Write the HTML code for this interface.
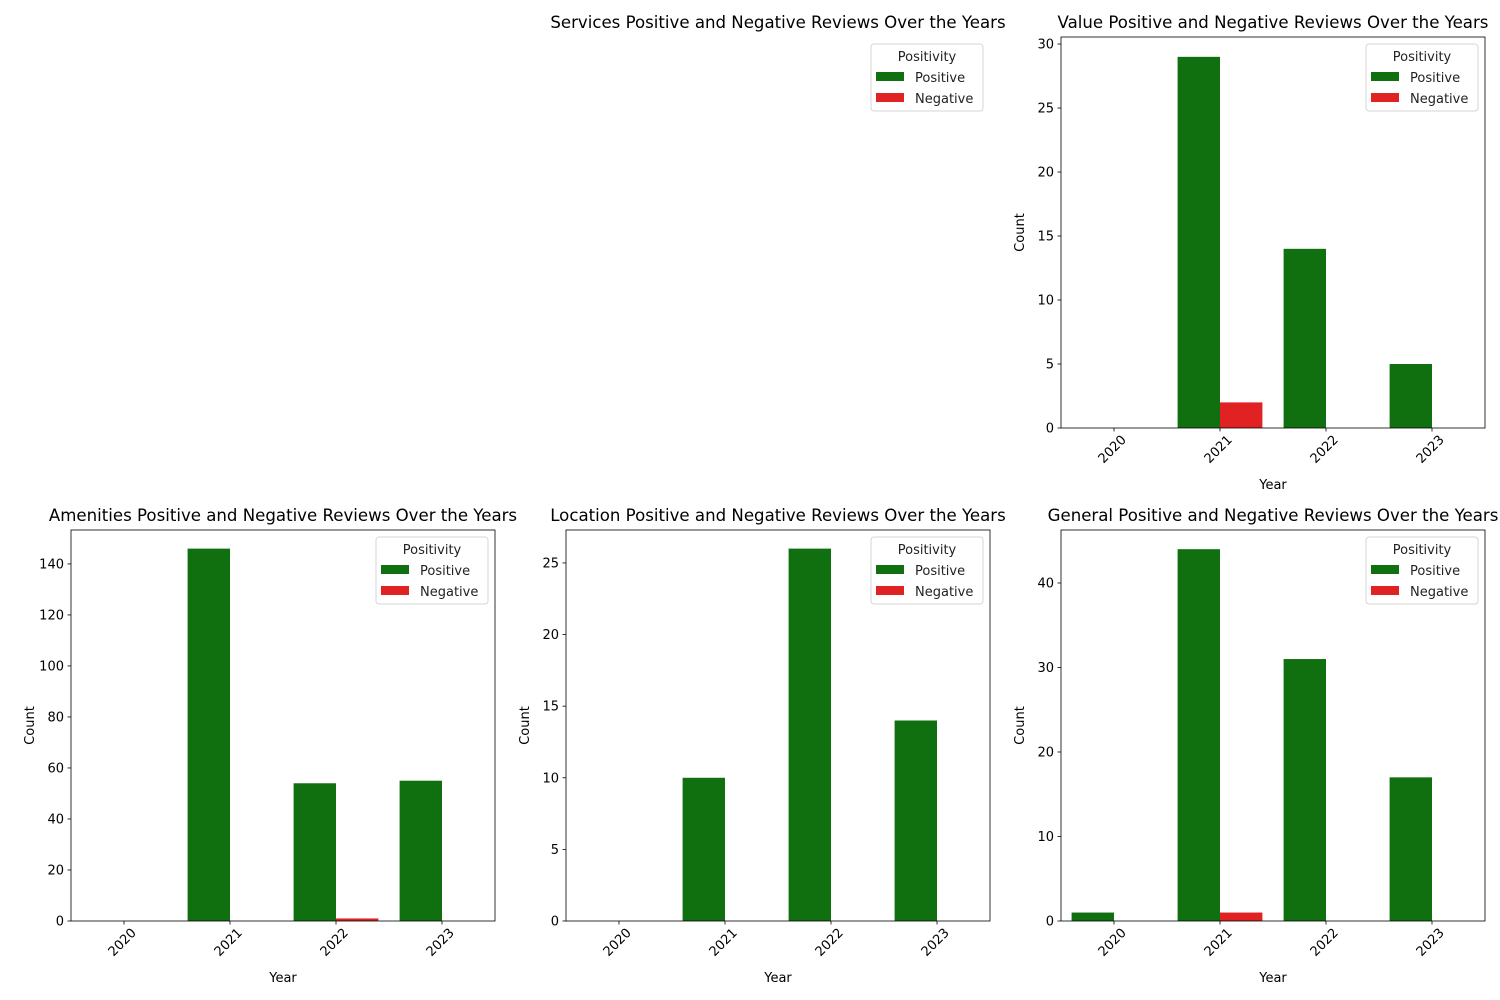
<!DOCTYPE html>
<html><head><meta charset="utf-8"><style>
body{margin:0;background:#fff}
svg{display:block;font-family:"DejaVu Sans","Liberation Sans",sans-serif}
</style></head><body>
<svg id="fig" width="1500" height="1000" viewBox="0 0 1500 1000"></svg>
<script>
const years = ["2020","2021","2022","2023"];
const valuePos = [0,29,14,5];
const valueNeg = [0,2,0,0];
const valueTicks = [0,5,10,15,20,25,30];
const amenPos = [0,146,54,55];
const amenNeg = [0,0,1,0];
const amenTicks = [0,20,40,60,80,100,120,140];
const locPos = [0,10,26,14];
const locNeg = [0,0,0,0];
const locTicks = [0,5,10,15,20,25];
const genPos = [1,44,31,17];
const genNeg = [0,1,0,0];
const genTicks = [0,10,20,30,40];

const NS="http://www.w3.org/2000/svg";
const svg=document.getElementById('fig');
function mk(tag,attrs,parent,text){const e=document.createElementNS(NS,tag);for(const k in attrs)e.setAttribute(k,attrs[k]);if(text!==undefined)e.textContent=text;(parent||svg).appendChild(e);return e;}
const GREEN="#107010", RED="#e02222";

function legend(g,x,y){
  const lg=mk('g',{},g);
  
  
  mk('rect',{x:x,y:y,width:112,height:67,rx:3,fill:'#fff',stroke:'#d5d5d5'},lg);
  mk('text',{x:x+56,y:y+17,'text-anchor':'middle','font-size':13,fill:'#222'},lg,'Positivity');
  const e1=mk('g',{},lg);
  
  
  mk('rect',{x:x+5,y:y+28,width:28,height:9,fill:GREEN},e1);
  mk('text',{x:x+44,y:y+38,'font-size':13,fill:'#222'},e1,'Positive');
  const e2=mk('g',{},lg);
  
  
  mk('rect',{x:x+5,y:y+49,width:28,height:9,fill:RED},e2);
  mk('text',{x:x+44,y:y+59,'font-size':13,fill:'#222'},e2,'Negative');
}

function panel(name,title,L,T,W,H,ymax,pos,neg,ticks){
  const g=mk('g',{});
  
  
  const B=T+H;
  const ys=v=>B-v/ymax*H;
  const step=W/years.length;
  const xc=i=>L+step*(i+0.5);
  const bw=step*0.4;
  ticks.forEach(t=>{
    const y=ys(t);
    mk('line',{x1:L-3.5,x2:L,y1:y,y2:y,stroke:'#000','stroke-width':0.8},g);
    const tl=mk('text',{x:L-7,y:y+4.5,'text-anchor':'end','font-size':13,fill:'#000'},g,String(t));
    
    
  });
  years.forEach((yr,i)=>{
    const b1=mk('rect',{x:xc(i)-bw,y:ys(pos[i]),width:bw,height:B-ys(pos[i]),fill:GREEN},g);
    
    
    const b2=mk('rect',{x:xc(i),y:ys(neg[i]),width:bw,height:B-ys(neg[i]),fill:RED},g);
    
    
    mk('line',{x1:xc(i),x2:xc(i),y1:B,y2:B+3.5,stroke:'#000','stroke-width':0.8},g);
    const cx=xc(i)-2, cy=B+21;
    const tl=mk('text',{x:cx,y:cy+4.5,'text-anchor':'middle','font-size':13,fill:'#000',transform:`rotate(-45 ${cx} ${cy})`},g,yr);
    
    
  });
  mk('rect',{x:L,y:T,width:W,height:H,fill:'none',stroke:'#000','stroke-width':0.8},g);
  const xt=mk('text',{x:L+W/2,y:B+61,'text-anchor':'middle','font-size':13,fill:'#000'},g,'Year');
  
  
  const yx=L-41, yy=T+H/2;
  const yt=mk('text',{x:yx,y:yy+4,'text-anchor':'middle','font-size':13,fill:'#000',transform:`rotate(-90 ${yx} ${yy})`},g,'Count');
  
  
  const tt=mk('text',{x:L+W/2,y:T-9,'text-anchor':'middle','font-size':16.6,fill:'#000'},g,title);
  
  
  legend(g,L+W-119,T+7);
}

const sg=mk('g',{});


const st=mk('text',{x:778,y:28,'text-anchor':'middle','font-size':16.6,fill:'#000'},sg,'Services Positive and Negative Reviews Over the Years');


legend(sg,871,44);

panel('value','Value Positive and Negative Reviews Over the Years',1061,37,424,391,30.55,valuePos,valueNeg,valueTicks);
panel('amenities','Amenities Positive and Negative Reviews Over the Years',71,530,424,391,153.3,amenPos,amenNeg,amenTicks);
panel('location','Location Positive and Negative Reviews Over the Years',566,530,424,391,27.3,locPos,locNeg,locTicks);
panel('general','General Positive and Negative Reviews Over the Years',1061,530,424,391,46.27,genPos,genNeg,genTicks);
</script>
</body></html>
